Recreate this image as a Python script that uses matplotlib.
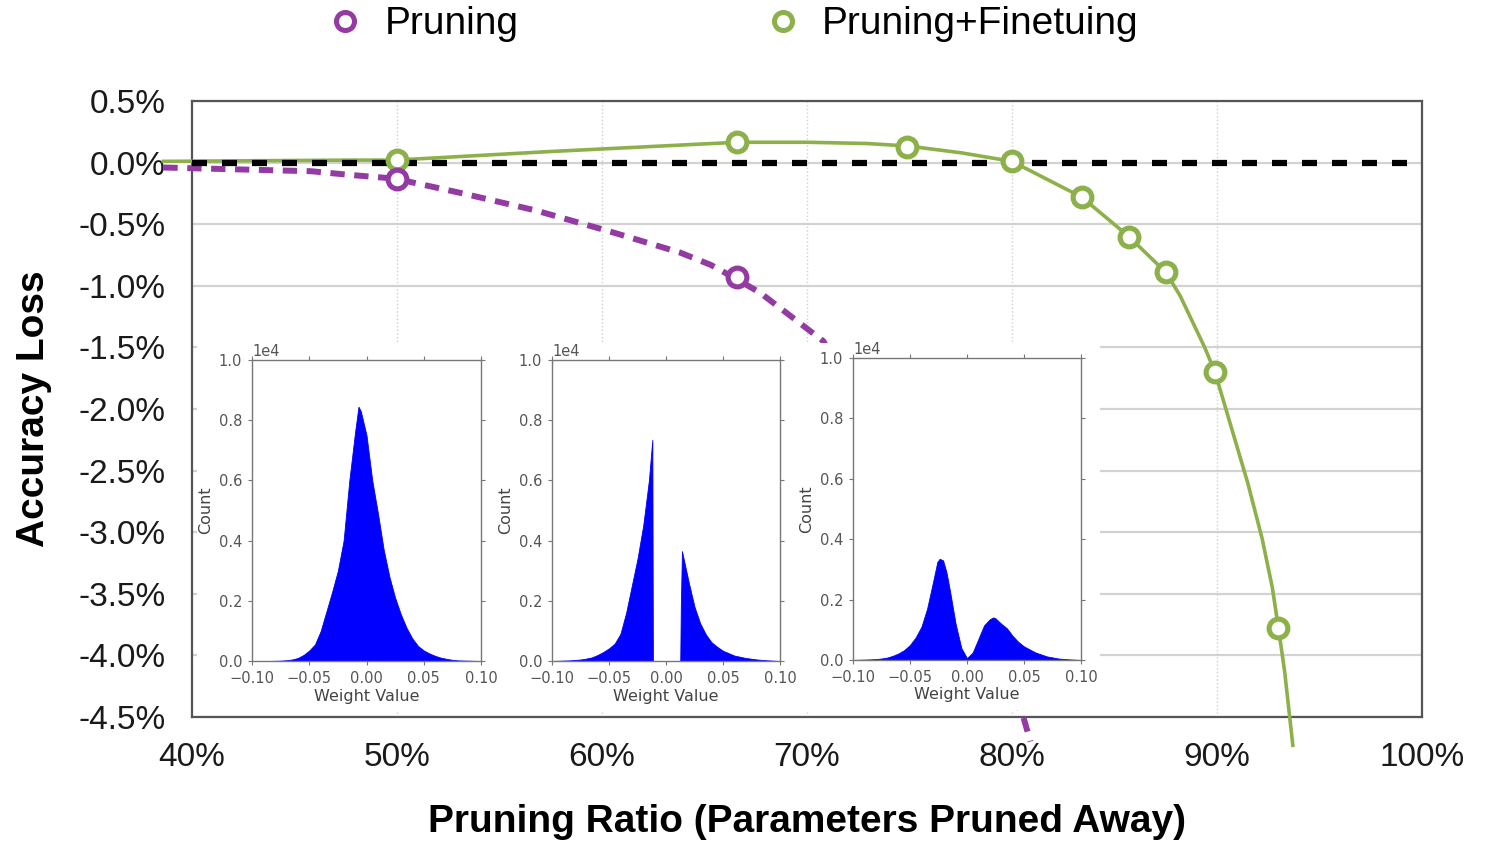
import matplotlib
matplotlib.use("Agg")
import matplotlib.pyplot as plt
from matplotlib.lines import Line2D
from matplotlib.patches import Rectangle

# main curves (x = pruning ratio %, y = accuracy loss %)
prune_x = [38.6, 45.8, 47.7, 49.9, 53.2, 56.8, 60.4, 63.8, 65.3, 66.5, 67.7, 69.0, 70.8,
           80.5, 80.9]
prune_y = [-0.04, -0.07, -0.10, -0.13, -0.25, -0.39, -0.56, -0.73, -0.83, -0.94, -1.055,
           -1.22, -1.45, -4.47, -4.70]
prune_mark_x = [50.0, 66.6]
prune_mark_y = [-0.13, -0.93]

ft_x = [38.6, 47.7, 49.9, 57.5, 66.6, 70.0, 72.9, 74.9, 77.5, 80.0, 83.4, 85.7, 87.5,
        88.2, 88.8, 89.4, 89.9, 90.7, 91.5, 92.2, 92.7, 93.0, 93.3, 93.7]
ft_y = [0.01, 0.02, 0.02, 0.09, 0.165, 0.165, 0.155, 0.135, 0.08, 0.01, -0.28, -0.60, -0.89,
        -1.08, -1.29, -1.50, -1.70, -2.15, -2.60, -3.05, -3.45, -3.78, -4.13, -4.73]
ft_mark_x = [50.0, 66.6, 74.9, 80.0, 83.4, 85.7, 87.5, 89.9, 93.0]
ft_mark_y = [0.02, 0.165, 0.13, 0.01, -0.28, -0.60, -0.89, -1.70, -3.78]

x_ticks = [40, 50, 60, 70, 80, 90, 100]
y_ticks = [0.5, 0.0, -0.5, -1.0, -1.5, -2.0, -2.5, -3.0, -3.5, -4.0, -4.5]

# weight histograms (count per bin)
w1_x = [-0.10, -0.09, -0.085, -0.08, -0.075, -0.07, -0.065, -0.06, -0.055, -0.05, -0.045, -0.04,
        -0.035, -0.03, -0.025, -0.02, -0.015, -0.01, -0.007, -0.005, 0.0, 0.005, 0.01, 0.015,
        0.02, 0.025, 0.03, 0.035, 0.04, 0.045, 0.05, 0.055, 0.06, 0.065, 0.07, 0.075, 0.08,
        0.09, 0.10]
w1_y = [0, 1, 3, 6, 12, 25, 50, 100, 200, 350, 550, 1000,
        1650, 2300, 3000, 4000, 6000, 7600, 8450, 8300, 7500, 6000, 4900, 3700,
        2800, 2100, 1550, 1100, 750, 500, 350, 250, 170, 110, 70, 40, 20,
        10, 0]
w2_x = [-0.10, -0.085, -0.075, -0.07, -0.065, -0.06, -0.055, -0.05, -0.045, -0.04, -0.035,
        -0.03, -0.025, -0.02, -0.015, -0.012, -0.0115, 0.0125, 0.013, 0.014, 0.02, 0.025,
        0.03, 0.035, 0.04, 0.045, 0.05, 0.06, 0.07, 0.08, 0.09, 0.10]
w2_y = [0, 20, 50, 80, 120, 200, 300, 420, 580, 900, 1600,
        2500, 3400, 4500, 6000, 7350, 0, 0, 1800, 3650, 2600, 1800,
        1250, 880, 620, 470, 340, 180, 100, 50, 20, 0]
w3_x = [-0.10, -0.085, -0.08, -0.075, -0.07, -0.065, -0.06, -0.055, -0.05, -0.045, -0.04,
        -0.035, -0.03, -0.026, -0.024, -0.021, -0.018, -0.015, -0.01, -0.005, 0.0, 0.005,
        0.01, 0.015, 0.02, 0.023, 0.025, 0.03, 0.035, 0.04, 0.045, 0.05, 0.055, 0.06, 0.07,
        0.08, 0.09, 0.10]
w3_y = [0, 20, 30, 50, 80, 140, 220, 330, 500, 750, 1100,
        1700, 2550, 3250, 3350, 3300, 2900, 2300, 1200, 400, 60, 250,
        700, 1150, 1350, 1410, 1380, 1200, 1050, 800, 600, 450, 350, 250, 120,
        50, 20, 0]

purple = "#933ba3"
green = "#8db14a"
main_font = ["Liberation Sans", "DejaVu Sans"]

fig = plt.figure(figsize=(14.91, 8.43), dpi=100)
ax = fig.add_axes([0.1288, 0.1495, 0.8249, 0.7307])
ax.set_xlim(40, 100)
ax.set_ylim(-4.5, 0.5)

for v in y_ticks:
    ax.axhline(v, color="#d2d2d2", lw=1.6, zorder=1)
for v in x_ticks[1:-1]:
    ax.axvline(v, color="#d0d0d0", lw=1.0, ls=":", zorder=1)

ax.plot(ft_x, ft_y, color=green, lw=2.6, zorder=3, clip_on=False)
ax.plot(prune_x, prune_y, color=purple, lw=4.3, ls=(0, (2.4, 1.6)), zorder=3, clip_on=False)
ax.axhline(0, color="black", lw=4.5, ls=(0, (2.4, 2.4)), zorder=4)

# white backing behind the histogram insets
ax.add_patch(Rectangle((40.24, -4.443), 44.06, 2.979, facecolor="white",
                       edgecolor="none", zorder=5))

ax.plot(ft_mark_x, ft_mark_y, ls="none", marker="o", ms=13.5, mew=3.7, mfc="white",
        mec=green, zorder=6, clip_on=False)
ax.plot(prune_mark_x, prune_mark_y, ls="none", marker="o", ms=13.5, mew=3.7, mfc="white",
        mec=purple, zorder=6, clip_on=False)

ax.set_xticks(x_ticks)
ax.set_xticklabels([f"{v}%" for v in x_ticks], fontsize=24, family=main_font)
ax.set_yticks(y_ticks)
ax.set_yticklabels([f"{abs(v):.1f}%" if v == 0 else f"{v:.1f}%" for v in y_ticks],
                   fontsize=24, family=main_font)
ax.tick_params(axis="both", length=0, colors="#1a1a1a")
ax.tick_params(axis="x", pad=18)
ax.tick_params(axis="y", pad=19)
for s in ax.spines.values():
    s.set_color("#555555")
    s.set_linewidth(1.6)

ax.set_xlabel("Pruning Ratio (Parameters Pruned Away)", fontsize=28, fontweight="bold",
              family=main_font)
ax.xaxis.set_label_coords(0.5, -0.142)
ax.set_ylabel("Accuracy Loss", fontsize=28, fontweight="bold", family=main_font)
ax.yaxis.set_label_coords(-0.114, 0.5)

handles = [
    Line2D([], [], ls="none", marker="o", ms=13, mew=3.6, mfc="white", mec=purple),
    Line2D([], [], ls="none", marker="o", ms=13, mew=3.6, mfc="white", mec=green),
]
fig.legend(handles, ["Pruning", "Pruning+Finetuing"], loc="center", ncol=2,
           bbox_to_anchor=(0.491, 0.971), frameon=False, handlelength=1.0,
           handletextpad=0.5, columnspacing=6.3,
           prop={"family": main_font, "size": 28})

inset_pos = [
    [252 / 1491, 182 / 843, 229 / 1491, 301 / 843],
    [552 / 1491, 182 / 843, 228 / 1491, 301 / 843],
    [853 / 1491, 183 / 843, 228 / 1491, 302 / 843],
]
hists = [(w1_x, w1_y), (w2_x, w2_y), (w3_x, w3_y)]
for pos, (hx, hy) in zip(inset_pos, hists):
    iax = fig.add_axes(pos)
    iax.fill_between(hx, hy, 0, color="#0000ff", lw=0.6, edgecolor="#0000ff")
    iax.set_xlim(-0.1, 0.1)
    iax.set_ylim(0, 10000)
    iax.set_xticks([-0.10, -0.05, 0.0, 0.05, 0.10])
    iax.set_yticks([0, 2000, 4000, 6000, 8000, 10000])
    iax.ticklabel_format(axis="y", style="sci", scilimits=(0, 0))
    iax.yaxis.get_offset_text().set_fontsize(10.5)
    iax.yaxis.get_offset_text().set_color("#555555")
    iax.tick_params(direction="out", length=3, width=0.8, color="#777777",
                    labelsize=10.5, labelcolor="#555555", top=True, right=True, pad=4)
    for s in iax.spines.values():
        s.set_color("#777777")
        s.set_linewidth(1.0)
    iax.set_xlabel("Weight Value", fontsize=11.5, color="#444444", labelpad=2)
    iax.set_ylabel("Count", fontsize=11.5, color="#444444", labelpad=4)

fig.savefig("out.png", dpi=100)
